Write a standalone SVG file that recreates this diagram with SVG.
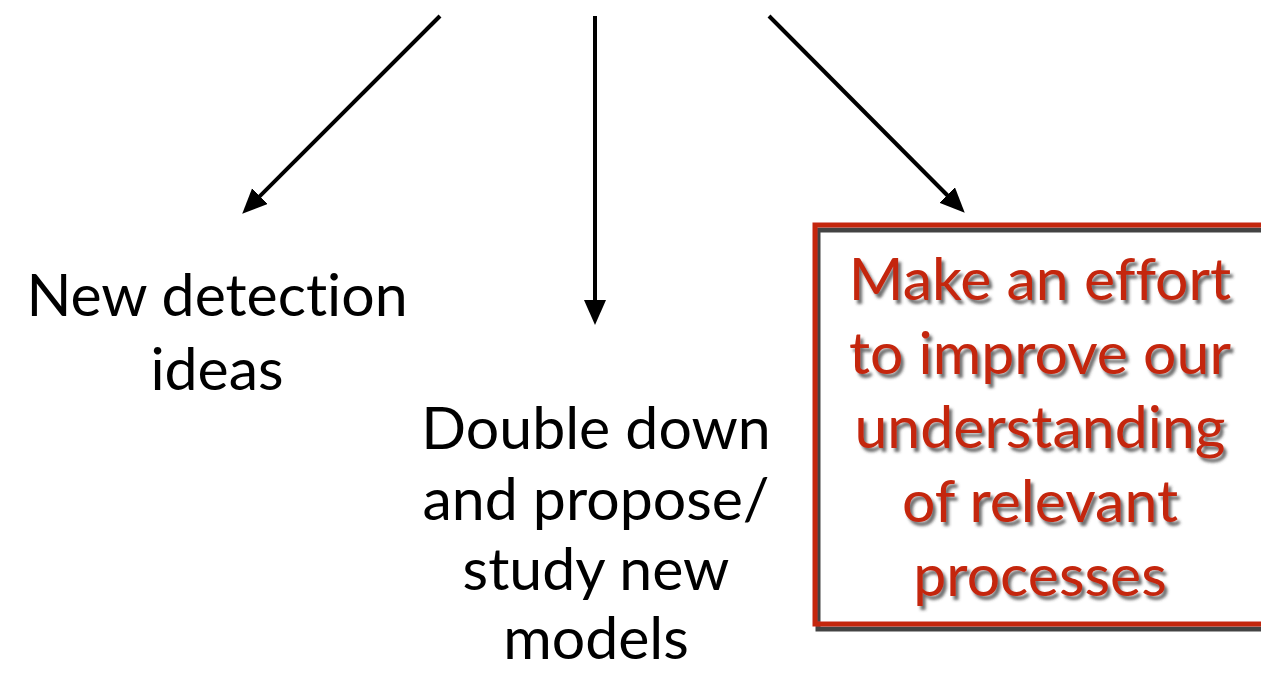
<svg xmlns="http://www.w3.org/2000/svg" width="1261" height="673" viewBox="0 0 1261 673">
  <style>
    .lbl { font-family: "Gill Sans", "Gill Sans MT", Lato, "Noto Sans", sans-serif; font-size: 59px; text-anchor: middle; font-variant-ligatures: none; font-feature-settings: "liga" 0, "clig" 0; }
    .blk { fill: #000000; }
    .red { fill: #C4270E; }
    .conn { stroke: #000000; stroke-width: 4; fill: none; marker-end: url(#arrow); }
    .box { fill: none; stroke: #C4270E; stroke-width: 5; }
  </style>
  <defs>
    <marker id="arrow" markerUnits="userSpaceOnUse" markerWidth="26" markerHeight="24" refX="14" refY="11" orient="auto">
      <path d="M0,0 L25,11 L0,22 Z" fill="#000000"/>
    </marker>
    <filter id="textShadow" x="-10%" y="-20%" width="120%" height="150%">
      <feDropShadow dx="3" dy="4" stdDeviation="1.6" flood-color="#3c3c3c" flood-opacity="0.75"/>
    </filter>
    <filter id="boxShadow" x="-5%" y="-5%" width="110%" height="110%">
      <feDropShadow dx="3" dy="5" stdDeviation="0.6" flood-color="#3a3a3a" flood-opacity="0.95"/>
    </filter>
  </defs>
  <rect x="0" y="0" width="1261" height="673" fill="#ffffff"/>

  <g id="connectors">
    <line class="conn" x1="440" y1="16" x2="250" y2="206"/>
    <line class="conn" x1="595" y1="16" x2="595" y2="314"/>
    <line class="conn" x1="769" y1="16" x2="957" y2="205"/>
  </g>

  <g id="node-new-detection">
    <text class="lbl blk" x="217" y="316">New detection</text>
    <text class="lbl blk" x="217" y="390">ideas</text>
  </g>

  <g id="node-double-down">
    <text class="lbl blk" x="596" y="449">Double down</text>
    <text class="lbl blk" x="596" y="520">and propose/</text>
    <text class="lbl blk" x="596" y="590">study new</text>
    <text class="lbl blk" x="596" y="659">models</text>
  </g>

  <g id="node-make-effort">
    <rect class="box" x="815" y="225" width="451" height="399" filter="url(#boxShadow)"/>
    <g filter="url(#textShadow)">
      <text class="lbl red" x="1040" y="300">Make an effort</text>
      <text class="lbl red" x="1040" y="374">to improve our</text>
      <text class="lbl red" x="1040" y="448">understanding</text>
      <text class="lbl red" x="1040" y="522">of relevant</text>
      <text class="lbl red" x="1040" y="596">processes</text>
    </g>
  </g>
</svg>
